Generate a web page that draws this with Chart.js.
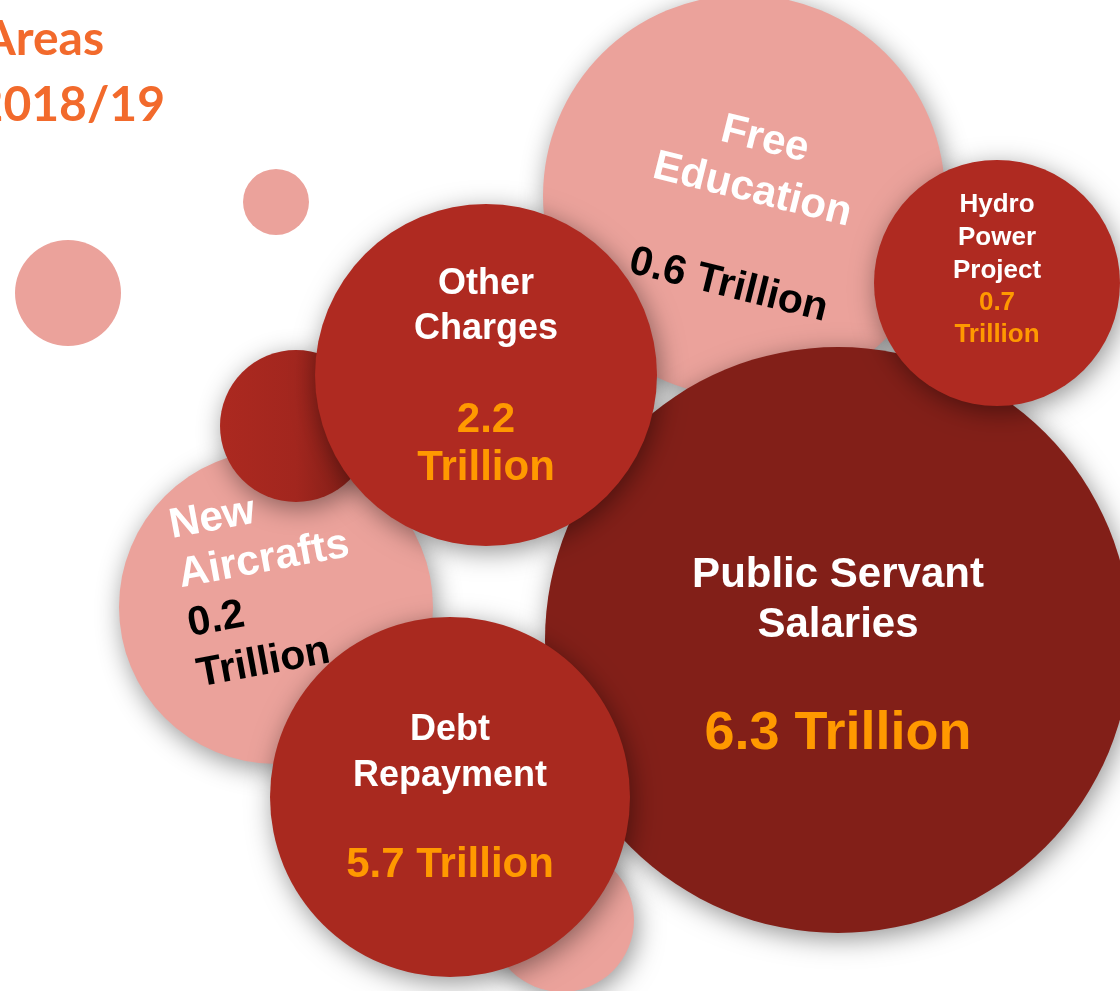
<!DOCTYPE html>
<html>
<head>
<meta charset="utf-8">
<script src="https://cdn.jsdelivr.net/npm/chart.js@4.4.1/dist/chart.umd.min.js"></script>
<style>
html,body{margin:0;padding:0;background:#fff;overflow:hidden}
#wrap{position:relative;width:1120px;height:991px}
</style>
</head>
<body>
<div id="wrap"><canvas id="chart"></canvas></div>
<script>
// budget areas, values in trillion
const categories = ['Free Education','New Aircrafts','Public Servant Salaries','Debt Repayment','Other Charges','Hydro Power Project'];
const amounts = [0.6, 0.2, 6.3, 5.7, 2.2, 0.7];
const nameLines = [['Free','Education'],['New','Aircrafts'],['Public Servant','Salaries'],['Debt','Repayment'],['Other','Charges'],['Hydro','Power','Project']];
const valueLines = [['0.6 Trillion'],['0.2','Trillion'],['6.3 Trillion'],['5.7 Trillion'],['2.2','Trillion'],['0.7','Trillion']];

// bubbles back to front (hidden axes run 0..1120 / 0..991, r in px)
const bubbleKeys = ['Free Education','New Aircrafts','dot','Public Servant Salaries','dot','Debt Repayment','Other Charges','Hydro Power Project'];
const bubbleX = [744, 276, 296, 838, 562, 450, 486, 997];
const bubbleY = [196, 607, 426, 640, 920, 797, 375, 283];
const bubbleSize = [201, 157, 76, 293, 72, 180, 171, 123];

// loose decorative dots, no shadow
const dotX = [68, 276];
const dotY = [293, 202];
const dotSize = [53, 33];

const titleLines = ['Areas', '2018/19'];

const PINK = '#EBA29B', RED = '#AF2A21', DEBT = '#A9291F', DARK = '#821F18', ORANGE = '#FF9900';
const bubbleColors = [PINK, PINK, 'shade', DARK, PINK, DEBT, RED, RED];

// text placement per category (offsets from bubble centre, baselines)
const textLayout = {
  'Free Education':          {dx:18,  dy:-45, rot:14,    align:'center', ys:[0,52,150],        nameSize:42, valueSize:41, nameColor:'#fff', valueColor:'#000'},
  'New Aircrafts':           {dx:-104,dy:-69, rot:-10.5, align:'left',   ys:[0,50,100,151],    nameSize:42, valueSize:41, nameColor:'#fff', valueColor:'#000'},
  'Public Servant Salaries': {dx:0,   dy:0,   rot:0,     align:'center', ys:[-53,-3,109],      nameSize:42, valueSize:54, nameColor:'#fff', valueColor:ORANGE},
  'Debt Repayment':          {dx:0,   dy:0,   rot:0,     align:'center', ys:[-57,-11,80],      nameSize:36, valueSize:42, nameColor:'#fff', valueColor:ORANGE},
  'Other Charges':           {dx:0,   dy:0,   rot:0,     align:'center', ys:[-81,-36,57,105],  nameSize:36, valueSize:42, nameColor:'#fff', valueColor:ORANGE},
  'Hydro Power Project':     {dx:0,   dy:0,   rot:0,     align:'center', ys:[-71,-38,-5,27,59],nameSize:26, valueSize:26, nameColor:'#fff', valueColor:ORANGE}
};

const toPoints = (xs, ys, rs) => xs.map((x,i)=>({x, y:ys[i], r:rs[i]}));

const shadowPlugin = {
  id:'shadow',
  beforeDatasetDraw(chart, args){
    if(!chart.data.datasets[args.index].shadow) return;
    const c = chart.ctx; c.save();
    c.shadowColor = 'rgba(0,0,0,0.42)'; c.shadowBlur = 26; c.shadowOffsetX = 3; c.shadowOffsetY = 6;
  },
  afterDatasetDraw(chart, args){ if(chart.data.datasets[args.index].shadow) chart.ctx.restore(); }
};

const labelPlugin = {
  id:'labels',
  afterDatasetsDraw(chart){
    const c = chart.ctx;
    const meta = chart.getDatasetMeta(1);
    c.save();
    c.textBaseline = 'alphabetic';
    categories.forEach((cat,i)=>{
      const el = meta.data[bubbleKeys.indexOf(cat)];
      const L = textLayout[cat];
      const lines = nameLines[i].map(t=>[t, L.nameSize, L.nameColor]).concat(valueLines[i].map(t=>[t, L.valueSize, L.valueColor]));
      c.save();
      c.translate(el.x + L.dx, el.y + L.dy);
      c.rotate(L.rot*Math.PI/180);
      c.textAlign = L.align;
      lines.forEach(([t,sz,col],k)=>{
        c.font = `bold ${sz}px "Liberation Sans", Arial, sans-serif`;
        c.fillStyle = col;
        c.fillText(t, 0, L.ys[k]);
      });
      c.restore();
    });
    c.font = 'bold 48px Lato, "Open Sans", sans-serif';
    c.fillStyle = '#F26A2C';
    c.textAlign = 'right';
    c.fillText(titleLines[0], 104, 55);
    c.fillText(titleLines[1], 165, 121);
    c.restore();
  }
};

new Chart(document.getElementById('chart'), {
  type:'bubble',
  data:{
    datasets:[
      {label:'dots', data:toPoints(dotX,dotY,dotSize), backgroundColor:PINK, borderWidth:0, clip:false},
      {label:'budget', shadow:true, data:toPoints(bubbleX,bubbleY,bubbleSize), borderWidth:0, clip:false,
       backgroundColor:c=>{
         const col = c.raw ? bubbleColors[c.dataIndex] : RED;
         if(col!=='shade') return col;
         const r = c.raw.r, cx = c.raw.x;
         const g = c.chart.ctx.createLinearGradient(cx - r, 0, cx + r, 0);
         g.addColorStop(0, '#AC2920'); g.addColorStop(0.5, '#A2261E'); g.addColorStop(1, '#761B14');
         return g;
       }}
    ]
  },
  options:{
    responsive:true, maintainAspectRatio:false, animation:false, events:[],
    layout:{padding:0, autoPadding:false},
    plugins:{legend:{display:false}, tooltip:{enabled:false}},
    scales:{
      x:{type:'linear', min:0, max:1120, display:false},
      y:{type:'linear', min:0, max:991, reverse:true, display:false}
    }
  },
  plugins:[shadowPlugin, labelPlugin]
});
</script>
</body>
</html>
